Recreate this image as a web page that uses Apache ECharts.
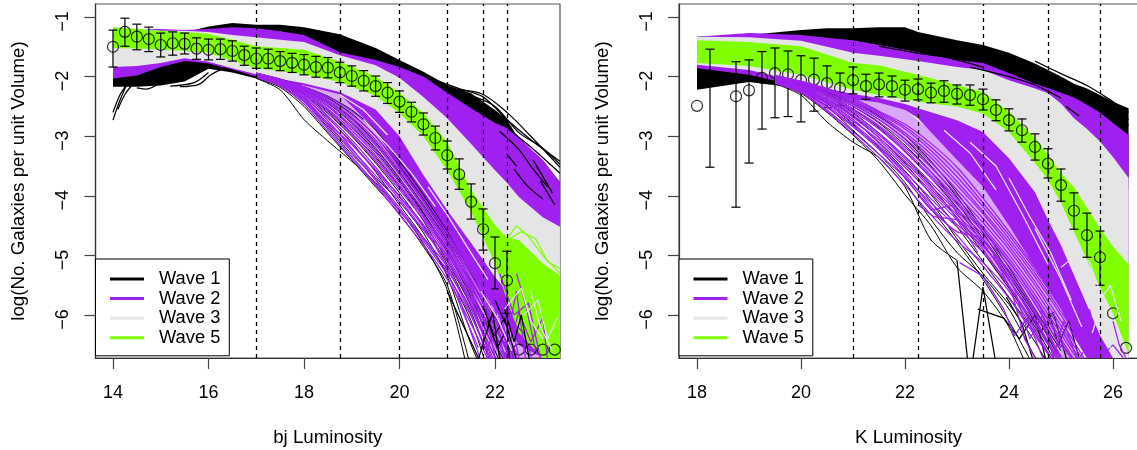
<!DOCTYPE html>
<html>
<head>
<meta charset="utf-8">
<title>Wave luminosity functions</title>
<style>
  html, body { margin: 0; padding: 0; background: #fff; overflow: hidden; }
  #chart { width: 1137px; height: 450px; }
</style>
<script src="https://cdn.jsdelivr.net/npm/echarts@6/dist/echarts.min.js"></script>
</head>
<body>
<div id="chart"></div>
<script>
// ---- tick labels and guides
var yTicks = [-6, -5, -4, -3, -2, -1];
var bjTicks = [14, 16, 18, 20, 22];
var kTicks = [18, 20, 22, 24, 26];
var bjGuides = [17, 18.75, 20, 21, 21.75, 22.25];
var kGuides = [21, 22.25, 23.5, 24.75, 25.75];
var waveNames = ['Wave 1', 'Wave 2', 'Wave 3', 'Wave 5'];
var waveColors = ['#000000', '#a020f0', '#e5e5e5', '#7fff00'];

// ---- bj panel: envelopes of the dense part of each wave
var bjBandX = [14, 14.5, 15, 15.5, 16, 16.5, 17, 17.5, 18, 18.75, 19.5, 20, 20.5, 21, 21.5, 22, 22.25, 22.5, 23, 23.36];
var bjWave1Top = [-1.6, -1.5, -1.4, -1.26, -1.16, -1.1, -1.13, -1.13, -1.17, -1.29, -1.52, -1.72, -1.92, -2.14, -2.28, -2.56, -2.72, -3.05, -3.4, -3.77];
var bjWave1Bot = [-2.17, -2.17, -2.15, -2.08, -1.87, -1.93, -2.03, -2.1, -2.14, -2.28, -2.6, -3.0, -3.4, -3.6, -3.7, -3.8, -3.8, -3.9, -4.0, -4.1];
var bjWave2Top = [-1.19, -1.2, -1.2, -1.22, -1.2, -1.17, -1.19, -1.24, -1.3, -1.59, -1.72, -1.84, -2.0, -2.27, -2.53, -2.78, -2.86, -3.02, -3.4, -3.77];
var bjWave2Bot = [-2.03, -1.98, -1.84, -1.74, -1.78, -1.88, -2.0, -2.08, -2.15, -2.3, -2.9, -3.55, -4.1, -4.7, -5.3, -5.92, -6.2, -6.5, -6.72, -6.72];
var bjWave3Top = [-1.17, -1.19, -1.23, -1.23, -1.25, -1.3, -1.34, -1.38, -1.42, -1.64, -1.81, -2.02, -2.34, -2.7, -3.13, -3.57, -3.78, -4.02, -4.36, -4.52];
var bjWave3Bot = [-1.84, -1.82, -1.77, -1.69, -1.75, -1.86, -1.96, -2.04, -2.11, -2.26, -2.55, -3.0, -3.65, -4.24, -4.79, -5.36, -5.6, -5.87, -6.72, -6.72];
var bjWave5Top = [-1.17, -1.2, -1.23, -1.25, -1.28, -1.38, -1.49, -1.52, -1.55, -1.75, -2.0, -2.27, -2.61, -3.1, -3.9, -4.49, -4.7, -4.74, -5.13, -5.33];
var bjWave5Bot = [-1.52, -1.53, -1.55, -1.57, -1.6, -1.74, -1.86, -1.91, -1.96, -2.09, -2.32, -2.61, -3.0, -3.57, -4.27, -5.13, -5.75, -6.3, -6.72, -6.72];
// thinner part of wave 2 where separate runs still overlap
var bjHazeX = [18, 18.75, 19.5, 20, 20.5, 21, 21.5, 22, 22.5, 23];
var bjHazeTop = [-2.15, -2.3, -2.9, -3.55, -4.1, -4.7, -5.3, -5.92, -6.5, -6.72];
var bjHazeBot = [-2.2, -2.6, -3.2, -3.75, -4.3, -5.0, -5.9, -6.72, -6.72, -6.72];

// ---- bj panel: single runs below the dense part
var bjLineX = [17, 17.5, 18, 18.5, 19, 19.5, 20, 20.5, 21, 21.5, 22, 22.5, 23];
var bjBlackRuns = [
  [-2.03, -2.22, -2.72, -3.08, -3.42, -3.78, -4.24, -4.8, -5.58, -7.2],
  [-2.02, -2.18, -2.5, -2.95, -3.4, -3.85, -4.3, -4.85, -5.5, -6.9],
  [-2.0, -2.14, -2.42, -2.85, -3.3, -3.7, -4.1, -4.62, -5.35, -6.5, -7.4],
  [-2.0, -2.12, -2.35, -2.7, -3.1, -3.6, -4.15, -4.7, -5.3, -6.1, -7.3],
  [-1.98, -2.1, -2.3, -2.62, -3.0, -3.45, -3.95, -4.5, -5.15, -5.95, -7.0],
  [-1.98, -2.1, -2.28, -2.58, -2.95, -3.35, -3.85, -4.42, -5.1, -5.85, -6.7, -7.4],
  [-1.96, -2.08, -2.24, -2.5, -2.85, -3.25, -3.75, -4.3, -4.95, -5.7, -6.6, -7.5],
  [-1.96, -2.07, -2.22, -2.45, -2.78, -3.2, -3.7, -4.28, -4.9, -5.62, -6.45, -7.3],
  [-1.95, -2.06, -2.2, -2.4, -2.7, -3.1, -3.6, -4.15, -4.75, -5.5, -6.3, -7.2],
  [-1.95, -2.05, -2.18, -2.36, -2.62, -3.0, -3.5, -4.05, -4.68, -5.42, -6.2, -7.0],
  [-1.94, -2.04, -2.17, -2.33, -2.56, -2.9, -3.42, -3.98, -4.6, -5.3, -6.05, -6.9]
];
var bjPurpleRuns = [
  [-2.0, -2.13, -2.38, -2.8, -3.22, -3.66, -4.1, -4.58, -5.1, -5.8, -6.9],
  [-2.0, -2.12, -2.33, -2.74, -3.2, -3.72, -4.2, -4.72, -5.25, -5.9, -6.8],
  [-1.98, -2.1, -2.31, -2.66, -3.06, -3.52, -4.02, -4.52, -5.2, -6.0, -7.0],
  [-1.98, -2.09, -2.27, -2.6, -2.98, -3.42, -3.9, -4.4, -5.02, -5.75, -6.6],
  [-1.97, -2.08, -2.25, -2.54, -2.9, -3.32, -3.82, -4.36, -4.96, -5.66, -6.5, -7.3],
  [-1.96, -2.07, -2.23, -2.48, -2.82, -3.22, -3.72, -4.24, -4.84, -5.5, -6.3, -7.2],
  [-1.95, -2.06, -2.21, -2.44, -2.76, -3.15, -3.64, -4.18, -4.78, -5.46, -6.15, -7.0],
  [-1.95, -2.05, -2.19, -2.4, -2.68, -3.06, -3.56, -4.1, -4.72, -5.4, -6.1, -6.85],
  [-1.94, -2.05, -2.18, -2.37, -2.64, -3.0, -3.52, -4.08, -4.68, -5.34, -6.02, -6.8],
  [-1.94, -2.04, -2.17, -2.34, -2.58, -2.92, -3.46, -4.02, -4.62, -5.28, -5.98, -6.7],
  [-2.01, -2.15, -2.42, -2.88, -3.34, -3.8, -4.26, -4.7, -5.18, -5.72, -6.35, -7.1],
  [-1.99, -2.11, -2.36, -2.78, -3.14, -3.58, -4.06, -4.56, -5.0, -5.56, -6.2, -6.9],
  [-2.01, -2.16, -2.46, -2.92, -3.38, -3.82, -4.32, -4.82, -5.4, -6.15, -7.0],
  [-1.99, -2.12, -2.4, -2.82, -3.26, -3.74, -4.24, -4.76, -5.32, -6.02, -6.9],
  [-1.97, -2.09, -2.29, -2.68, -3.12, -3.56, -4.0, -4.48, -5.06, -5.84, -6.72],
  [-1.96, -2.08, -2.26, -2.56, -2.94, -3.38, -3.86, -4.34, -4.92, -5.6, -6.4, -7.2],
  [-1.95, -2.06, -2.24, -2.5, -2.86, -3.28, -3.78, -4.32, -4.88, -5.54, -6.22, -7.0],
  [-1.94, -2.05, -2.2, -2.42, -2.72, -3.12, -3.62, -4.2, -4.8, -5.44, -6.08, -6.8]
];
var bjBlackTops = [
  [[20.75, -2.06], [21.25, -2.2], [21.75, -2.34], [22.25, -2.72], [22.75, -3.06], [23.36, -3.42]],
  [[21.25, -2.22], [21.75, -2.3], [22.25, -2.6], [22.75, -3.0], [23.36, -3.52]],
  [[21.5, -2.32], [22, -2.5], [22.5, -2.94], [23, -3.2], [23.36, -3.47]],
  [[21.75, -2.45], [22.25, -2.85], [22.75, -3.18], [23.36, -3.62]],
  [[22.1, -2.92], [22.5, -3.22], [22.75, -3.5], [23.1, -3.85]],
  [[22.4, -3.55], [22.7, -3.85], [23.0, -4.05]],
  [[22.8, -3.4], [23.2, -3.95]],
  [[22.25, -3.3], [22.45, -3.5]],
  [[22.95, -3.75], [23.25, -4.15]]
];
var bjBlackHead = [
  [[14, -2.73], [14.12, -2.45], [14.28, -2.15]],
  [[14, -2.6], [14.15, -2.3], [14.3, -2.12]],
  [[14.1, -2.55], [14.25, -2.3], [14.42, -2.12]],
  [[14.5, -2.19], [14.7, -2.21], [15, -2.1]],
  [[15.4, -2.17], [15.8, -2.13], [16.05, -1.97], [16.35, -1.85]],
  [[15.2, -2.16], [15.7, -2.1], [16, -1.93]]
];
var bjPurpleTails = [
  [[21.4, -5.3], [21.75, -6.2], [22, -5.6], [22.3, -6.8]],
  [[21.5, -5.7], [21.85, -6.6], [22.05, -5.9], [22.25, -6.4], [22.45, -5.6], [22.65, -6.8]],
  [[21.9, -5.5], [22.2, -6.75], [22.35, -6.1], [22.6, -6.3], [22.8, -6.8]],
  [[22.1, -5.3], [22.4, -6.0], [22.7, -5.8], [22.95, -6.72]],
  [[21.2, -5.6], [21.5, -6.3], [21.7, -6.75]],
  [[22.2, -6.75], [22.5, -5.95], [22.75, -6.45], [23.0, -6.05], [23.1, -6.75]],
  [[20.95, -5.15], [21.3, -5.9], [21.65, -6.55]],
  [[22.45, -5.3], [22.65, -5.85], [22.85, -6.6]],
  [[21.6, -5.35], [21.8, -5.9], [22, -6.72]],
  [[21.75, -5.5], [21.9, -6.1], [22.15, -6.0], [22.3, -6.72]],
  [[22.05, -5.5], [22.3, -5.9], [22.5, -6.72]]
];
var bjBlackTails = [
  [[21.0, -5.6], [21.35, -6.2], [21.7, -6.8]],
  [[21.65, -6.75], [21.95, -5.95], [22.1, -6.75]],
  [[21.75, -5.85], [21.98, -6.35], [22.2, -6.05], [22.45, -6.75]],
  [[22.2, -5.9], [22.4, -6.45], [22.55, -6.0], [22.72, -6.75]],
  [[22, -5.75], [22.25, -6.2], [22.3, -6.72]],
  [[21.85, -6.1], [22.05, -6.55], [22.2, -6.3]]
];
var bjLightRuns = [
  [[19.25, -2.72], [19.75, -3.15], [20.25, -3.62], [20.75, -4.18]],
  [[18.75, -2.3], [19.25, -2.56], [19.75, -2.98]],
  [[20.6, -3.85], [21, -4.32], [21.5, -4.96], [21.85, -5.4]],
  [[21.7, -5.6], [22.05, -6.05], [22.35, -6.6]],
  [[22.2, -5.9], [22.55, -5.55], [22.75, -6.1], [23.0, -6.4]],
  [[22.75, -5.6], [22.95, -6.2], [23.2, -6.6]],
  [[22.6, -6.0], [22.9, -5.75], [23.1, -6.4], [23.3, -6.05]]
];
var bjGreenTops = [
  [[22.25, -4.72], [22.45, -4.5], [22.7, -4.68], [23, -5.0], [23.36, -5.3]],
  [[22.25, -4.75], [22.55, -4.6], [22.85, -4.72], [23.1, -5.1], [23.36, -5.22]]
];

// ---- bj panel: observed points with error bars
var bjPointX = [14, 14.25, 14.5, 14.75, 15, 15.25, 15.5, 15.75, 16, 16.25, 16.5, 16.75, 17, 17.25, 17.5, 17.75, 18, 18.25, 18.5, 18.75, 19, 19.25, 19.5, 19.75, 20, 20.25, 20.5, 20.75, 21, 21.25, 21.5, 21.75, 22, 22.25, 22.5, 22.75, 23, 23.25];
var bjMean = [-1.5, -1.25, -1.33, -1.37, -1.47, -1.44, -1.45, -1.53, -1.55, -1.54, -1.57, -1.64, -1.7, -1.7, -1.74, -1.77, -1.8, -1.84, -1.85, -1.93, -1.99, -2.07, -2.16, -2.27, -2.42, -2.59, -2.8, -3.03, -3.32, -3.64, -4.1, -4.56, -5.13, -5.42, -6.58, -6.58, -6.58, -6.58];
var bjHigh = [-1.22, -1.02, -1.12, -1.17, -1.27, -1.25, -1.27, -1.35, -1.37, -1.37, -1.4, -1.49, -1.52, -1.54, -1.58, -1.61, -1.63, -1.66, -1.68, -1.76, -1.82, -1.9, -1.99, -2.1, -2.24, -2.43, -2.61, -2.83, -3.08, -3.38, -3.8, -4.22, -4.69, -4.93, null, null, null, null];
var bjLow = [-1.84, -1.49, -1.55, -1.58, -1.67, -1.64, -1.62, -1.71, -1.72, -1.71, -1.74, -1.81, -1.86, -1.86, -1.9, -1.93, -1.97, -2.01, -2.02, -2.1, -2.16, -2.24, -2.33, -2.45, -2.6, -2.76, -2.98, -3.23, -3.55, -3.89, -4.39, -4.91, -5.56, -5.97, null, null, null, null];

// ---- K panel: envelopes
var kBandX = [18, 19, 20, 20.5, 21, 21.5, 22, 22.25, 23, 23.5, 24, 24.5, 24.75, 25, 25.25, 25.5, 25.75, 26, 26.3];
var kWave1Top = [-1.33, -1.3, -1.22, -1.19, -1.19, -1.17, -1.17, -1.25, -1.39, -1.47, -1.6, -1.78, -1.89, -2.0, -2.12, -2.2, -2.31, -2.42, -2.53];
var kWave1Bot = [-2.22, -2.09, -2.2, -2.27, -2.35, -2.4, -2.5, -2.6, -3.0, -3.3, -3.5, -3.6, -3.6, -3.6, -3.6, -3.7, -3.7, -3.8, -3.9];
var kWave2Top = [-1.33, -1.27, -1.3, -1.35, -1.39, -1.47, -1.55, -1.59, -1.72, -1.77, -1.94, -2.12, -2.19, -2.27, -2.35, -2.47, -2.6, -2.78, -2.98];
var kWave2Bot = [-1.86, -1.97, -2.17, -2.3, -2.38, -2.44, -2.56, -2.7, -3.4, -3.85, -4.5, -5.2, -5.55, -5.9, -6.35, -6.72, -6.72, -6.72, -6.72];
var kWave3Top = [-1.33, -1.34, -1.4, -1.5, -1.6, -1.65, -1.71, -1.74, -1.84, -1.89, -2.06, -2.2, -2.28, -2.45, -2.7, -2.88, -3.09, -3.35, -3.7];
var kWave3Bot = [-1.8, -1.89, -2.09, -2.2, -2.29, -2.36, -2.46, -2.53, -2.73, -2.93, -3.37, -3.94, -4.4, -4.83, -5.33, -5.83, -6.34, -6.72, -6.72];
var kWave5Top = [-1.39, -1.42, -1.49, -1.63, -1.77, -1.81, -1.92, -1.97, -2.14, -2.26, -2.59, -3.03, -3.32, -3.62, -3.85, -4.2, -4.54, -4.85, -5.15];
var kWave5Bot = [-1.77, -1.82, -1.97, -2.1, -2.22, -2.31, -2.38, -2.42, -2.5, -2.62, -2.93, -3.45, -3.73, -4.12, -4.6, -5.08, -5.53, -5.97, -6.65];
var kHazeX = [21, 21.5, 22, 22.5, 23, 23.5, 24, 24.5, 25, 25.25];
var kHazeTop = [-2.38, -2.44, -2.56, -2.9, -3.4, -3.85, -4.5, -5.2, -5.9, -6.35];
var kHazeBot = [-2.42, -2.7, -3.1, -3.7, -4.3, -4.95, -5.6, -6.3, -6.72, -6.72];

// ---- K panel: single runs
var kLineX = [19.5, 20, 20.5, 21, 21.5, 22, 22.5, 23, 23.5, 24, 24.5, 25, 25.5, 26];
var kBlackRuns = [
  [-2.12, -2.31, -2.76, -3.1, -3.36, -3.85, -4.74, -5.08],
  [-2.1, -2.28, -2.6, -2.98, -3.42, -3.98, -4.5, -5.2, -5.6, -6.2, -7.2],
  [-2.08, -2.24, -2.5, -2.9, -3.3, -3.78, -4.4, -4.95, -5.35, -5.9, -6.7, -7.4],
  [-2.08, -2.22, -2.45, -2.8, -3.2, -3.7, -4.22, -4.78, -5.4, -6.1, -6.9],
  [-2.06, -2.2, -2.42, -2.72, -3.12, -3.58, -4.1, -4.72, -5.3, -5.82, -6.45, -7.2],
  [-2.05, -2.18, -2.38, -2.66, -3.02, -3.45, -3.98, -4.52, -5.1, -5.7, -6.3, -7],
  [-2.04, -2.16, -2.34, -2.6, -2.95, -3.35, -3.82, -4.38, -4.95, -5.55, -6.2, -6.95],
  [-2.03, -2.14, -2.3, -2.54, -2.86, -3.25, -3.7, -4.2, -4.8, -5.42, -6.1, -6.85],
  [-2.02, -2.12, -2.28, -2.5, -2.78, -3.15, -3.6, -4.12, -4.72, -5.35, -6.0, -6.7],
  [-2.01, -2.11, -2.26, -2.46, -2.72, -3.05, -3.5, -4.02, -4.62, -5.28, -5.95, -6.8],
  [-2.0, -2.1, -2.24, -2.42, -2.66, -2.98, -3.42, -3.95, -4.55, -5.2, -5.9, -6.6]
];
var kPurpleRuns = [
  [-2.1, -2.26, -2.56, -2.92, -3.3, -3.7, -4.22, -4.6, -4.72, -5.4, -6.1, -6.8],
  [-2.09, -2.24, -2.52, -2.84, -3.22, -3.68, -4.12, -4.52, -4.95, -5.5, -6.25, -7],
  [-2.08, -2.22, -2.46, -2.78, -3.16, -3.6, -4.05, -4.48, -4.85, -5.35, -5.95, -6.7],
  [-2.07, -2.2, -2.42, -2.72, -3.1, -3.52, -3.96, -4.4, -4.82, -5.42, -6.05, -6.9],
  [-2.06, -2.19, -2.4, -2.68, -3.02, -3.42, -3.88, -4.32, -4.76, -5.25, -5.92, -6.75],
  [-2.05, -2.17, -2.37, -2.62, -2.95, -3.34, -3.78, -4.22, -4.66, -5.18, -5.8, -6.55],
  [-2.04, -2.16, -2.34, -2.58, -2.88, -3.26, -3.7, -4.14, -4.6, -5.12, -5.72, -6.4, -7.1],
  [-2.03, -2.14, -2.31, -2.54, -2.82, -3.18, -3.6, -4.05, -4.52, -5.05, -5.66, -6.32, -7],
  [-2.02, -2.13, -2.29, -2.5, -2.76, -3.1, -3.52, -3.98, -4.45, -4.98, -5.58, -6.25, -6.95],
  [-2.02, -2.12, -2.27, -2.47, -2.72, -3.04, -3.44, -3.9, -4.38, -4.9, -5.5, -6.18, -6.85],
  [-2.01, -2.11, -2.25, -2.44, -2.68, -2.98, -3.36, -3.82, -4.3, -4.84, -5.44, -6.1, -6.8],
  [-2.0, -2.1, -2.24, -2.42, -2.64, -2.94, -3.3, -3.76, -4.26, -4.78, -5.36, -6.0, -6.7],
  [-2.0, -2.09, -2.22, -2.4, -2.62, -2.88, -3.24, -3.68, -4.18, -4.72, -5.3, -5.94, -6.6],
  [-1.99, -2.08, -2.21, -2.38, -2.6, -2.84, -3.18, -3.6, -4.12, -4.66, -5.24, -5.88, -6.55],
  [-1.98, -2.08, -2.2, -2.36, -2.58, -2.8, -3.12, -3.52, -4.04, -4.6, -5.2, -5.84, -6.5],
  [-2.11, -2.27, -2.58, -2.96, -3.36, -3.82, -4.32, -4.76, -5.12, -5.6, -6.3, -7],
  [-2.09, -2.23, -2.49, -2.82, -3.18, -3.64, -4.18, -4.66, -5.18, -5.72, -6.35, -6.95],
  [-2.07, -2.21, -2.44, -2.75, -3.06, -3.48, -3.92, -4.36, -4.9, -5.52, -6.15, -6.85],
  [-2.06, -2.18, -2.38, -2.65, -2.98, -3.38, -3.84, -4.26, -4.72, -5.3, -5.98, -6.7],
  [-2.05, -2.16, -2.33, -2.56, -2.84, -3.22, -3.66, -4.1, -4.56, -5.1, -5.74, -6.45, -7.1]
];
var kBlackTops = [
  [[24.5, -1.74], [25, -1.95], [25.5, -2.15], [26, -2.42], [26.3, -2.6]],
  [[24.75, -1.95], [25.25, -2.16], [25.75, -2.38], [26.3, -2.72]],
  [[25, -2.1], [25.5, -2.32], [26, -2.55], [26.3, -2.82]],
  [[22.3, -1.58], [22.9, -1.7], [23.5, -1.84]],
  [[21.5, -1.49], [22.2, -1.6], [22.7, -1.66]],
  [[23.25, -1.84], [24, -2.0], [24.5, -2.14], [25, -2.36]],
  [[25.1, -2.5], [25.35, -2.66]]
];
var kBlackSpikes = [
  [[23, -5.08], [23.2, -6.72]],
  [[23.31, -6.72], [23.5, -5.53], [23.73, -6.72]],
  [[23.4, -5.9], [23.9, -6.05], [24.2, -6.4], [24.5, -6.0], [24.7, -6.72]],
  [[23.95, -5.7], [24.25, -6.15], [24.45, -6.72]],
  [[24.25, -5.72], [24.6, -6.3], [24.85, -5.95], [25.1, -6.72]],
  [[24.75, -5.9], [24.95, -6.5], [25.15, -6.1], [25.35, -6.72]]
];
var kPurpleTails = [
  [[23.05, -5.12], [23.5, -5.35], [23.9, -5.9], [24.1, -6.35], [24.35, -6.05], [24.65, -6.72]],
  [[22.25, -3.98], [22.5, -4.24], [22.9, -4.16], [23.2, -4.55], [23.6, -4.9]],
  [[22.25, -4.15], [22.55, -4.35], [23, -4.4], [23.4, -4.95]],
  [[24.1, -5.55], [24.4, -6.4], [24.65, -6.0], [24.95, -6.72]],
  [[24.6, -5.85], [24.85, -6.72], [25.05, -6.1], [25.3, -6.72]],
  [[25.05, -6.3], [25.35, -6.72], [25.6, -6.4], [25.85, -6.72]],
  [[25.55, -5.9], [25.75, -6.72], [26, -6.5], [26.2, -6.72]],
  [[26, -6.1], [26.12, -6.5], [26.25, -6.72]],
  [[23.7, -5.0], [24.05, -5.6], [24.3, -6.4], [24.5, -6.72]],
  [[24.35, -5.6], [24.6, -5.95], [24.9, -6.4], [25.2, -6.72]]
];
var kLightRuns = [
  [[23.25, -3.1], [23.75, -3.5], [24.25, -4.3], [24.75, -5.15]],
  [[22.75, -2.9], [23.25, -3.28], [23.75, -3.9]],
  [[24.5, -4.55], [25, -5.4], [25.4, -6.2]],
  [[25, -5.2], [25.25, -5.02], [25.55, -5.1], [25.8, -5.75], [25.6, -6.3]],
  [[25.75, -5.75], [25.95, -5.5], [26.15, -6.1]],
  [[25.4, -5.4], [25.7, -6.1], [26.05, -6.72]],
  [[24, -3.7], [24.4, -4.35], [24.8, -4.95], [25.2, -5.75]]
];

// ---- K panel: observed points
var kPointX = [18, 18.25, 18.5, 18.75, 19, 19.25, 19.5, 19.75, 20, 20.25, 20.5, 20.75, 21, 21.25, 21.5, 21.75, 22, 22.25, 22.5, 22.75, 23, 23.25, 23.5, 23.75, 24, 24.25, 24.5, 24.75, 25, 25.25, 25.5, 25.75, 26, 26.25];
var kMean = [-2.49, null, null, -2.33, -2.23, -2.02, -1.94, -1.96, -2.06, -2.05, -2.11, -2.19, -2.06, -2.16, -2.13, -2.16, -2.22, -2.21, -2.27, -2.24, -2.29, -2.31, -2.38, -2.56, -2.73, -2.9, -3.18, -3.46, -3.82, -4.25, -4.66, -5.03, -5.97, -6.55];
var kHigh = [null, -1.54, null, -1.75, -1.72, -1.58, -1.52, -1.57, -1.65, -1.69, -1.82, -1.94, -1.84, -1.96, -1.94, -1.99, -2.06, -2.04, -2.11, -2.07, -2.14, -2.14, -2.21, -2.39, -2.54, -2.71, -2.96, -3.21, -3.55, -3.95, -4.29, -4.59, null, null];
var kLow = [null, -3.52, null, -4.19, -3.45, -2.88, -2.69, -2.67, -2.76, -2.58, -2.52, -2.49, -2.29, -2.38, -2.34, -2.34, -2.41, -2.39, -2.44, -2.43, -2.46, -2.48, -2.56, -2.74, -2.91, -3.1, -3.4, -3.7, -4.09, -4.56, -5.03, -5.5, null, null];

// ---- series helpers
function bandSeries(wave, xs, top, bot, panel, opacity) {
  return {
    type: 'custom', name: waveNames[wave], xAxisIndex: panel, yAxisIndex: panel,
    clip: true, silent: true, data: [[xs[0], top[0]]],
    itemStyle: { color: waveColors[wave] },
    renderItem: function(params, api) {
      var pts = [];
      xs.forEach(function(x, i) { pts.push(api.coord([x, top[i]])); });
      for (var i = xs.length - 1; i >= 0; i--) pts.push(api.coord([xs[i], bot[i]]));
      return { type: 'polygon', shape: { points: pts }, style: { fill: waveColors[wave], opacity: opacity || 1 } };
    }
  };
}

function runSeries(wave, pts, panel, smooth, width) {
  return {
    type: 'line', name: waveNames[wave], xAxisIndex: panel, yAxisIndex: panel,
    data: pts, showSymbol: false, smooth: smooth, clip: true, silent: true,
    lineStyle: { color: waveColors[wave], width: width || 1.25 },
    itemStyle: { color: waveColors[wave] }
  };
}

function gridRuns(wave, xs, rows, panel, width) {
  return rows.map(function(row) {
    return runSeries(wave, row.map(function(y, i) { return [xs[i], y]; }), panel, 0.25, width);
  });
}

function pairRuns(wave, rows, panel, smooth, width) {
  return rows.map(function(row) { return runSeries(wave, row, panel, smooth, width); });
}

function guideSeries(guides, panel) {
  return {
    type: 'line', xAxisIndex: panel, yAxisIndex: panel, data: [], silent: true,
    markLine: {
      silent: true, symbol: 'none', animation: false, label: { show: false },
      lineStyle: { color: '#000', type: [4, 4], width: 1.3 },
      data: guides.map(function(g) { return { xAxis: g }; })
    }
  };
}

function errorSeries(xs, high, low, panel) {
  var data = [];
  xs.forEach(function(x, i) { if (high[i] !== null) data.push([x, high[i], low[i]]); });
  return {
    type: 'custom', xAxisIndex: panel, yAxisIndex: panel, clip: true, silent: true, data: data,
    encode: { x: 0, y: [1, 2] },
    renderItem: function(params, api) {
      var a = api.coord([api.value(0), api.value(1)]);
      var b = api.coord([api.value(0), api.value(2)]);
      var style = { stroke: '#000', lineWidth: 1.2, fill: null };
      return {
        type: 'group',
        children: [
          { type: 'line', shape: { x1: a[0], y1: a[1], x2: b[0], y2: b[1] }, style: style },
          { type: 'line', shape: { x1: a[0] - 4.5, y1: a[1], x2: a[0] + 4.5, y2: a[1] }, style: style },
          { type: 'line', shape: { x1: b[0] - 4.5, y1: b[1], x2: b[0] + 4.5, y2: b[1] }, style: style }
        ]
      };
    }
  };
}

function pointSeries(xs, mean, panel) {
  var data = [];
  xs.forEach(function(x, i) { if (mean[i] !== null) data.push([x, mean[i]]); });
  return {
    type: 'scatter', xAxisIndex: panel, yAxisIndex: panel, data: data, symbol: 'circle', symbolSize: 11,
    silent: true, clip: false,
    itemStyle: { color: 'rgba(0,0,0,0)', borderColor: '#000', borderWidth: 1.2 }
  };
}

// ---- chart
var series = [].concat(
  // bj panel
  bandSeries(0, bjBandX, bjWave1Top, bjWave1Bot, 0),
  pairRuns(0, bjBlackHead, 0, 0.3),
  bandSeries(1, bjHazeX, bjHazeTop, bjHazeBot, 0, 0.4),
  gridRuns(0, bjLineX, bjBlackRuns, 0, 1),
  gridRuns(1, bjLineX, bjPurpleRuns, 0),
  bandSeries(1, bjBandX, bjWave2Top, bjWave2Bot, 0),
  pairRuns(0, bjBlackTops, 0, 0.3),
  bandSeries(2, bjBandX, bjWave3Top, bjWave3Bot, 0),
  bandSeries(3, bjBandX, bjWave5Top, bjWave5Bot, 0),
  pairRuns(3, bjGreenTops, 0, false),
  pairRuns(1, bjPurpleTails, 0, false),
  pairRuns(0, bjBlackTails, 0, false),
  pairRuns(2, bjLightRuns, 0, false),
  guideSeries(bjGuides, 0),
  errorSeries(bjPointX, bjHigh, bjLow, 0),
  pointSeries(bjPointX, bjMean, 0),
  // K panel
  bandSeries(0, kBandX, kWave1Top, kWave1Bot, 1),
  bandSeries(1, kHazeX, kHazeTop, kHazeBot, 1, 0.4),
  gridRuns(0, kLineX, kBlackRuns, 1, 1),
  pairRuns(0, kBlackSpikes, 1, false),
  gridRuns(1, kLineX, kPurpleRuns, 1),
  pairRuns(1, kPurpleTails, 1, false),
  bandSeries(1, kBandX, kWave2Top, kWave2Bot, 1),
  pairRuns(0, kBlackTops, 1, 0.3),
  bandSeries(2, kBandX, kWave3Top, kWave3Bot, 1),
  bandSeries(3, kBandX, kWave5Top, kWave5Bot, 1),
  pairRuns(2, kLightRuns, 1, false),
  guideSeries(kGuides, 1),
  errorSeries(kPointX, kHigh, kLow, 1),
  pointSeries(kPointX, kMean, 1)
);

function xAxisFor(panel, min, max, ticks, title) {
  return {
    type: 'value', gridIndex: panel, min: min, max: max, name: title,
    nameLocation: 'middle', nameGap: 70,
    nameTextStyle: { fontFamily: 'Liberation Sans', fontSize: 18.7, color: '#000' },
    splitLine: { show: false },
    axisLine: { onZero: false, lineStyle: { color: '#333', width: 1.2 } },
    axisTick: { customValues: ticks, length: 11, lineStyle: { color: '#444', width: 1.2 } },
    axisLabel: { customValues: ticks, margin: 26, fontFamily: 'Liberation Sans', fontSize: 18, color: '#000' }
  };
}

function yAxisFor(panel) {
  return {
    type: 'value', gridIndex: panel, min: -6.72, max: -0.782,
    name: 'log(No. Galaxies per unit Volume)', nameLocation: 'middle', nameGap: 67, nameRotate: 90,
    nameTextStyle: { fontFamily: 'Liberation Sans', fontSize: 18.7, color: '#000' },
    splitLine: { show: false },
    axisLine: { onZero: false, lineStyle: { color: '#333', width: 1.2 } },
    axisTick: { customValues: yTicks, length: 11, lineStyle: { color: '#444', width: 1.2 } },
    axisLabel: {
      customValues: yTicks, rotate: 90, margin: 23, fontFamily: 'Liberation Sans', fontSize: 18, color: '#000',
      padding: [0, 9, 0, 0],
      formatter: function(v) { return String(v).replace('-', '\u2212'); }
    }
  };
}

function legendFor(left) {
  return {
    show: true, left: left, top: 259, orient: 'vertical', data: waveNames, selectedMode: false,
    icon: 'rect', itemWidth: 34, itemHeight: 3, itemGap: 1.6,
    padding: [11, 9, 9, 14.5], backgroundColor: '#fff', borderColor: '#000', borderWidth: 1, borderRadius: 0,
    textStyle: { fontFamily: 'Liberation Sans', fontSize: 18.3, color: '#000', padding: [0, 0, 0, 10] },
    z: 20
  };
}

var chart = echarts.init(document.getElementById('chart'), null, { renderer: 'canvas' });
chart.setOption({
  animation: false,
  backgroundColor: '#fff',
  grid: [
    { show: true, left: 95.5, top: 4, width: 464.5, height: 354, borderColor: '#555', borderWidth: 1.2, backgroundColor: 'transparent', outerBoundsMode: 'none' },
    { show: true, left: 679, top: 4, width: 459, height: 354, borderColor: '#555', borderWidth: 1.2, backgroundColor: 'transparent', outerBoundsMode: 'none' }
  ],
  xAxis: [
    xAxisFor(0, 13.634, 23.361, bjTicks, 'bj Luminosity'),
    xAxisFor(1, 17.654, 26.481, kTicks, 'K Luminosity')
  ],
  yAxis: [yAxisFor(0), yAxisFor(1)],
  legend: [legendFor(95.5), legendFor(679)],
  series: series
});
</script>
</body>
</html>
